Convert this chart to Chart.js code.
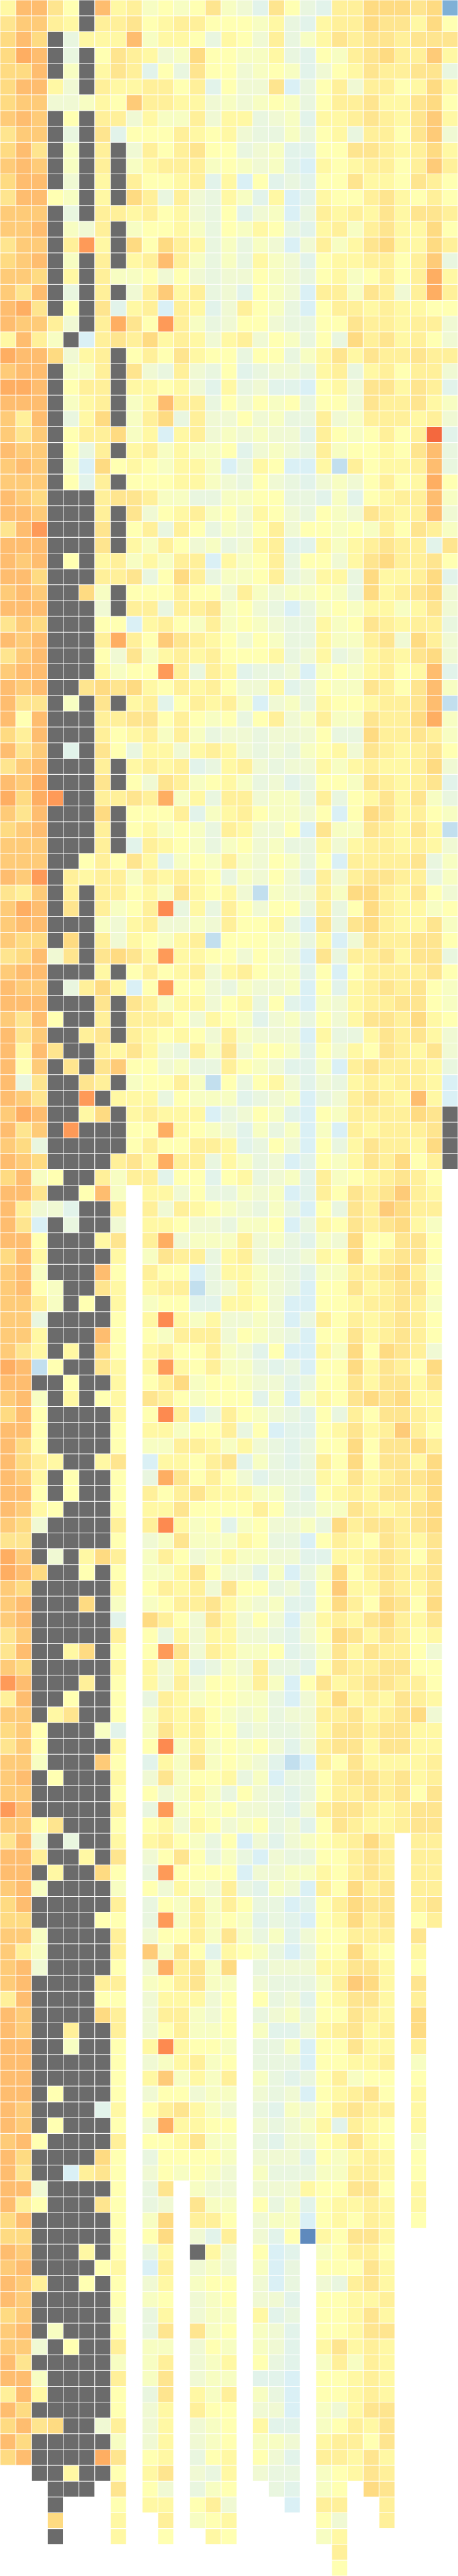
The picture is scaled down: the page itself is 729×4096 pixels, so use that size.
<!DOCTYPE html>
<html>
<head>
<meta charset="utf-8">
<title>Heatmap</title>
<script src="https://cdn.jsdelivr.net/npm/chart.js@4"></script>
<style>
  html, body { margin: 0; padding: 0; background: #fff; }
  canvas { display: block; }
</style>
</head>
<body>
<canvas id="heatmap" width="729" height="4096"></canvas>
<script>
// one string per row, one code per column: 0-i = value level (cold to hot),
// x = flagged cell (grey), . = no cell
const rowsA = [
  "9eeb8 xe9a7 878b7 64b85 4aacc cbc1", "bdda9 xaab8 9aa88 87954 9aacb b9c8",
  "cecx5 999e7 99859 86a57 9babb abbb", "cfex5 x8ba9 67c88 77954 87abc aad9",
  "ccex7 x9ba4 85b88 67874 689ba abb5", "cee96 xa99a a8a48 66b35 8a6aa 89c9",
  "cdd66 798da a9967 67875 8aab9 9bc8", "dedx8 xaa69 77a69 95674 99aba 9bd9",
  "bddx5 xb488 8a989 65575 895aa 8bd6", "cebx7 xax6a 8ab88 56744 88bba 9ac9",
  "dedx7 xax79 aaa78 76743 989aa 8ada", "ceex6 x9xa8 89a49 38454 88b99 8ba8",
  "bee87 x9xca 5a659 74934 988ab 98a8", "dddx5 xaa9a 89658 46735 a9a9b 9bba"
];
const rowsB = [
  "ddex7 6ax78 89758 79854 9a7ab 99c8", "bddxa g9xc8 ca957 57636 a79bc 99ca",
  "cdex7 xax9a ea757 59764 899aa 8ad5", "ddcx9 xa778 68656 68765 8978a 8af9",
  "dbex5 xax6a d9a56 48763 aa7ba 6afa", "efbx8 xb49a 3a946 a8753 8aa9a 9988",
  "edda6 xafb8 ga756 88655 88baa 9aa6", "9ea7x 3abac 9a969 a6875 85cab 9a86",
  "feec6 9ax8a 8b988 58857 9b9ba abaa", "deex7 7axb6 5a658 45665 9a59a 8aa6",
  "ffex8 aax99 89649 56443 896bb 9ba4", "eeex7 9ax79 eaa58 68785 886ba ab97",
  "daex5 9cx7a c5a66 86755 a67aa a9a6", "dbdx8 aac79 39a67 67664 a878a 8ai4"
];
const rowsC = [
  "eddx8 5ax9a 79778 46765 a7889 8be5", "dedx7 3c898 79973 59833 92a89 9ae5",
  "dddx8 4ax88 89976 58654 6768a 89f8", "edcxx xabba 77557 78855 47489 aae7",
  "eedxx xaxb6 89a78 69865 876ba 9ae6", "begxx xbx8a 5a857 68a68 8787a 8ba7",
  "eeexx xbx97 a8675 69a44 979ab aa4b", "edex8 x9a79 7aa39 78a58 869bc aab8",
  "eecxx xaab5 8ca57 78a56 995c9 9ac4", "dedxx c7x88 8a886 a7677 875c9 abc6",
  "eeexx x6xaa 5aab7 86535 78799 79b6", "bdcxx x8839 a87a7 87655 978ba 9aa5",
  "edexx xafa8 dba98 68755 977ab 6ca6"
];
const rowsD = [
  "bdexx x86b7 9a9a8 88956 9569a 9bc6", "deexx x9788 ga5a9 45563 7879a 89e4",
  "edexx bcbc9 8a9a8 66945 877ba 8be7", "ebbx7 xbx9a 48a9a 73675 9889a abe2",
  "e8exx xaabb 8a878 58a67 a77ba acf7", "caexx xa89a 7a756 65666 855ca aba7",
  "ebdx4 xb859 969a9 65657 896ba 9ab8", "bdexx xax9a 9a459 a6566 979a9 9ac6",
  "edfxx xbx86 ba789 75645 887ba 9ab4", "fcfgx xaaba f795a a6775 a589b 9b75",
  "dbexx xcx88 8a479 a8776 838cb 9a87", "cdexx xax89 7875a 96683 b77ba 9b92",
  "dddxx xax4a 98757 86755 969aa 9a96", "dddxx 8a8b9 4787a 76875 83aaa ab57"
];
const rowsE = [
  "edgxa 9aa7a 9a985 76864 a6abb aa57", "badxa xaa89 7b989 62766 a7cca 9b86",
  "dfexb xa78a h595a 86885 a58ca 9978", "deexx x769a 6676a 88953 b5bca 99b7",
  "dccxc xa698 79a28 88775 936ba abb8", "bce6b xbcb9 g9988 68763 b5aab 9bb5",
  "deexx x9x8a 89a69 a8774 838aa aab8", "eddx5 ac938 g8865 76673 849ab ab87",
  "eeexx xbxba 79968 95843 769aa bb87", "dbe8x xaxaa a8698 74675 869bb ac98",
  "ebdxx abxa9 8986a 76663 9559b ab96", "e9ebx xa9b9 65a7b 68874 8698b a9b6",
  "e8dxb xbd88 6755a 87644 73aba aa95"
];
const rowsF = [
  "e5bxx bax78 8a728 58964 659a9 aa93", "edbxx gx999 58777 45673 56aba 9e93",
  "dfexx 9cx9a 99935 68743 87aaa acbx", "ebdxg xxx88 f9876 47573 73a9a aabx",
  "dc5xx xxx8a 88aa9 45863 859ba a9cx", "edcxx xxab9 faa59 75634 879ba c8ax",
  "ce78x xa7aa 48848 95674 a789a ba8.", "eebxx 8e7.9 96855 76734 a8bab da9.",
  "ea664 xxa.a 6a987 65753 85bad caa.", "eb3x5 xx6.9 98665 77835 98bab c97.",
  "ee8xx x9b.a f6777 a6754 76c88 bb8.", "ce9xx xx9.7 baa59 a6556 98c8a bb8.",
  "de7xx xe8.a 88359 97654 77aab ca7.", "de87x xb9.9 aa256 97653 88b9a bb8."
];
const rowsG = [
  "dda7x 8x9.7 88449 98633 889aa ba7.", "dd5xx xx8.9 h9796 67635 a8a9a ba8.",
  "dd9xx xe8.8 7aaa6 87653 88b9a ba8.", "db9x9 xc8.9 a88a7 64833 97c8c ba6.",
  "fe28x xb9.9 g98a7 75453 88c9b a8c.", "eexx8 xx9.8 ac788 76645 88b9b b9b.",
  "de7x9 x89.b a8788 84737 98bcb c99.", "ce8xx xx9.8 ha35a 87654 85a8b ba9.",
  "ee8xx xx8.9 9788a 58344 89b9a da8.", "ec8xx xx8.7 7aa97 96545 88c8b bca.",
  "eca9x x9b.3 998ab 47545 a8c8b b9c.", "ed9x8 xx8.5 fb8a8 64555 98b9a bbc.",
  "ee8x8 xx8.a 8ab99 97754 89a9b bac.", "ed98x xx8.9 9b888 8a855 77ba9 abc."
];
const rowsH = [
  "dc6xx xxa.a h9784 78667 5cabb abc.", "bbxxx xx8.6 7b777 98553 8a98b a9b.",
  "fdx6x 9ca.7 a8679 77664 499ab a8b.", "fecxx 8x8.7 79b86 64735 7c8ab aab.",
  "dcxxx xx9.8 a9a6b 88564 8d99b a9b.", "dexxx cx7.7 8aab9 76744 8ca8c b8c.",
  "dexxx xx4.c a86b9 68636 9a9bc a9b.", "bdxxx xxa.8 59699 66546 8cb9b a89.",
  "bexx9 cx8.8 gb6a9 77845 7b9ba a86.", "dcxxx xx9.9 69457 6a554 8baab b88.",
  "gexxx ax8.9 6a688 7a738 b9abb aa8.", "aexx8 xx8.5 a9788 77536 9c9a9 ba9.",
  "ddx9b xx8.7 a9a87 67566 aab9a bc6."
];
const rowsI = [
  "cd8xx x74.7 b9a88 56556 9bbab b99.", "bd8xx xx9.8 h7a78 78646 abb9b b99.",
  "dd7xx xd8.4 97b78 76423 a8b99 99a.", "dex8x xx9.6 b7889 57355 8abba b9a.",
  "ddxxx xx8.8 67975 86545 8aaba b8b.", "gexxx xxa.5 g7878 66546 abba9 abb.",
  "dd8bx xx8.8 96986 78564 8ba99 abb.", "be6x5 xx9.9 a8758 36467 89aca .aa.",
  "eeaxx 9xb.6 8b857 53655 88aba .aa.", "eex9x xc8.5 g8888 36677 98aba .aa.",
  "de7xx xx7.8 6976a 54763 a8cab .aa.", "cexxx xxa.5 87a7a 85534 8acbb .ab.",
  "ccxxx x88.5 g7a78 74543 89cab .8a.", "dd7xx xxa.6 88a7b 75746 88aaa .b.."
];
const rowsJ = [
  "da7xx xxa.d 7b849 87535 88c98 .9..", "de6xx xx8.6 fab7c .5666 99bb9 .8..",
  "dexxx xaa.7 8ab77 .6555 7adc9 .b..", "aexxx x88.6 99968 .8564 89bb9 .a..",
  "edxxx xca.6 aa768 .5675 88ba9 .c..", "edxxa xxa.6 8a778 .7446 9ab9a .c..",
  "eexx7 xx8.9 h9887 .5573 88b99 .a..", "eexxx xx8.6 79a78 .5553 8899a .7..",
  "eexxx xx8.9 d797a .7545 8a788 .8..", "eex8x xx8.6 88677 .6563 89ab8 .9..",
  "edxxx x49.8 ab976 .5476 8abaa .9..", "edx8x xx8.6 f9988 .6567 94a98 .9..",
  "de8xx xxa.8 89b77 .5466 89b98 .7.."
];
const rowsK = [
  "ecxxx xc8.5 88887 .6664 879a9 .8..", "ebxx3 ab8.6 87876 .7555 77aa9 .8..",
  "ee6xx xx8.5 b.766 .6669 88bb8 .9..", "ea8xx xb8.5 6.b77 .8574 899a9 .9..",
  "cexxx xx8.7 c.aa8 .6773 898a9 .8..", "ccxxx xx8.8 c.64a .6480 98bb9 ....",
  "edxxx 9x8.5 9.x96 .834. 78aa8 ....", "dexxx x89.3 a.676 .735. 888b9 ....",
  "edaxx 8x8.6 9.788 .635. 65ab9 ....", "edxxx xx8.7 8.678 .664. 8899a ....",
  "cdxxx xx7.5 9.677 .945. 889b9 ....", "dex7x xx8.5 b.b78 .764. 889bb ....",
  "dd6x8 xxa.7 7.687 .764. 9b9a9 ....", "ebxxx xx7.7 a.679 .854. 7a7a9 ...."
];
const rowsL = [
  "ee7xx xxa.7 b.677 .443. 889a9 ....", "ae9xx xx8.5 b.97a .753. 889a9 ....",
  "ecxxx xx8.6 9.a88 .663. 769bb ....", "cebcx x6a.6 9.678 .944. 78a9b ....",
  "ecxxx xx7.6 9.678 .776. 9aa8b ....", "cexxx xfb.8 9.589 .864. aa9b9 ....",
  "..xx9 xx8.9 b.659 .655. 789ba ....", "...xx x.b.8 6.578 ..54. 78.cb ....",
  "...x. ..8.9 9.8a6 ...3. aa..a ....", "...c. ..9.. a.789 ..... 86..a ....",
  "...x. ..9.. 8..98 ..... 79... ....", "..... ..... ..... ..... .a... ....",
  "..... ..... ..... ..... .8... ...."
];

const levelCodes = "0123456789abcdefghi";
const levelColors = [
  "#5f8abd", "#7fb0d6", "#c2dfee", "#daf0f5", "#e2f3ea", "#e9f6df", "#f0f9d3",
  "#f7fdc2", "#ffffb2", "#fff8a4", "#fff09a", "#fee58f", "#fedb82", "#fecb78",
  "#febd6f", "#feae62", "#fe9a58", "#fd8a50", "#f4683e"
];
const flaggedColor = "#6b6b6b";

const rows = [].concat(rowsA, rowsB, rowsC, rowsD, rowsE, rowsF, rowsG, rowsH, rowsI, rowsJ, rowsK, rowsL)
  .map(function (row) { return row.replace(/ /g, ""); });
const columns = Array.from(rows[0], function (_, i) { return "c" + i; });

function cellColor(code) {
  return code === "x" ? flaggedColor : levelColors[levelCodes.indexOf(code)];
}

const datasets = rows.map(function (row, r) {
  const codes = Array.from(row);
  return {
    label: "row " + r,
    data: codes.map(function (code) { return code === "." ? null : [r, r + 1]; }),
    backgroundColor: codes.map(function (code) { return code === "." ? "#ffffff" : cellColor(code); }),
    borderColor: "#ffffff",
    borderWidth: 0.85,
    borderSkipped: false,
    grouped: false,
    barPercentage: 1,
    categoryPercentage: 1
  };
});

new Chart(document.getElementById("heatmap"), {
  type: "bar",
  data: { labels: columns, datasets: datasets },
  options: {
    responsive: false,
    animation: false,
    layout: { padding: 0 },
    plugins: { legend: { display: false }, tooltip: { enabled: false } },
    scales: {
      x: { display: false, grid: { display: false } },
      y: { display: false, grid: { display: false }, reverse: true, min: 0, max: rows.length }
    }
  }
});
</script>
</body>
</html>
